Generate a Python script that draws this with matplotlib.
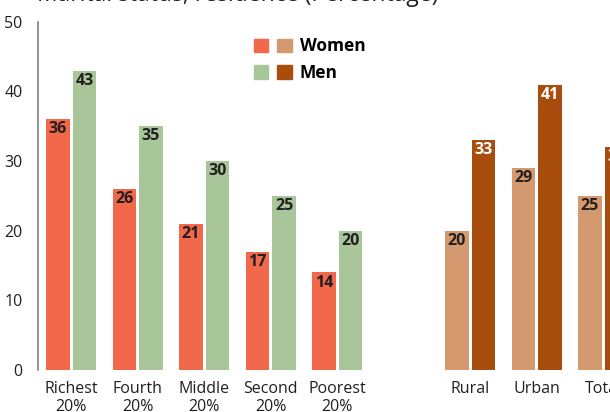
import numpy as np
import matplotlib.pyplot as plt
from matplotlib.patches import Patch
from matplotlib.legend_handler import HandlerTuple

plt.rcParams['font.family'] = ['Open Sans', 'DejaVu Sans']

# data
groups = ['Richest\n20%', 'Fourth\n20%', 'Middle\n20%', 'Second\n20%', 'Poorest\n20%',
          'Rural', 'Urban', 'Total']
women = [36, 26, 21, 17, 14, 20, 29, 25]
men = [43, 35, 30, 25, 20, 33, 41, 32]
pos = [0, 1, 2, 3, 4, 6, 7, 8]

women_c = ['#F2684A'] * 5 + ['#D4996F'] * 3
men_c = ['#A9C59A'] * 5 + ['#A84D0E'] * 3
men_txt = ['#231F20'] * 5 + ['white'] * 3

fig = plt.figure(figsize=(6.10, 4.12), dpi=100)
ax = fig.add_axes([0.0623, 0.102, 1.0, 0.845])

w = 0.35
off = 0.2
x = np.array(pos, dtype=float)
ax.bar(x - off, women, w, color=women_c)
ax.bar(x + off, men, w, color=men_c)

for xi, v in zip(x - off, women):
    ax.annotate(str(v), (xi, v), xytext=(0, -1.5), textcoords='offset points',
                ha='center', va='top', fontsize=11.5, fontweight='bold', color='#231F20')
for xi, v, c in zip(x + off, men, men_txt):
    ax.annotate(str(v), (xi, v), xytext=(0, -1.5), textcoords='offset points',
                ha='center', va='top', fontsize=11.5, fontweight='bold', color=c)

ax.set_xlim(-0.5, -0.5 + 610 / 66.5)
ax.set_ylim(0, 50)
ax.set_yticks([0, 10, 20, 30, 40, 50])
ax.set_xticks(pos)
ax.set_xticklabels(groups, fontsize=11.5, color='#231F20', linespacing=1.15)
ax.tick_params(axis='y', length=0, labelsize=11.5, labelcolor='#231F20', pad=11)
ax.tick_params(axis='x', length=0, pad=8)
for s in ['top', 'right', 'bottom']:
    ax.spines[s].set_visible(False)
ax.spines['left'].set_color('#808080')
ax.spines['left'].set_linewidth(1.2)

h_w = (Patch(color='#F2684A'), Patch(color='#D4996F'))
h_m = (Patch(color='#A9C59A'), Patch(color='#A84D0E'))
ax.legend([h_w, h_m], ['Women', 'Men'],
          handler_map={tuple: HandlerTuple(ndivide=None, pad=0.5)},
          loc='upper left', bbox_to_anchor=(0.328, 1.0), frameon=False,
          handlelength=2.2, handleheight=0.8, handletextpad=0.45, labelspacing=0.5,
          prop={'weight': 'bold', 'size': 12.5})

fig.text(0.06, 1 - 1 / 412, 'Marital status, residence (Percentage)', fontsize=16.5,
         color='#231F20', va='baseline')

fig.savefig('out.png', dpi=100)
